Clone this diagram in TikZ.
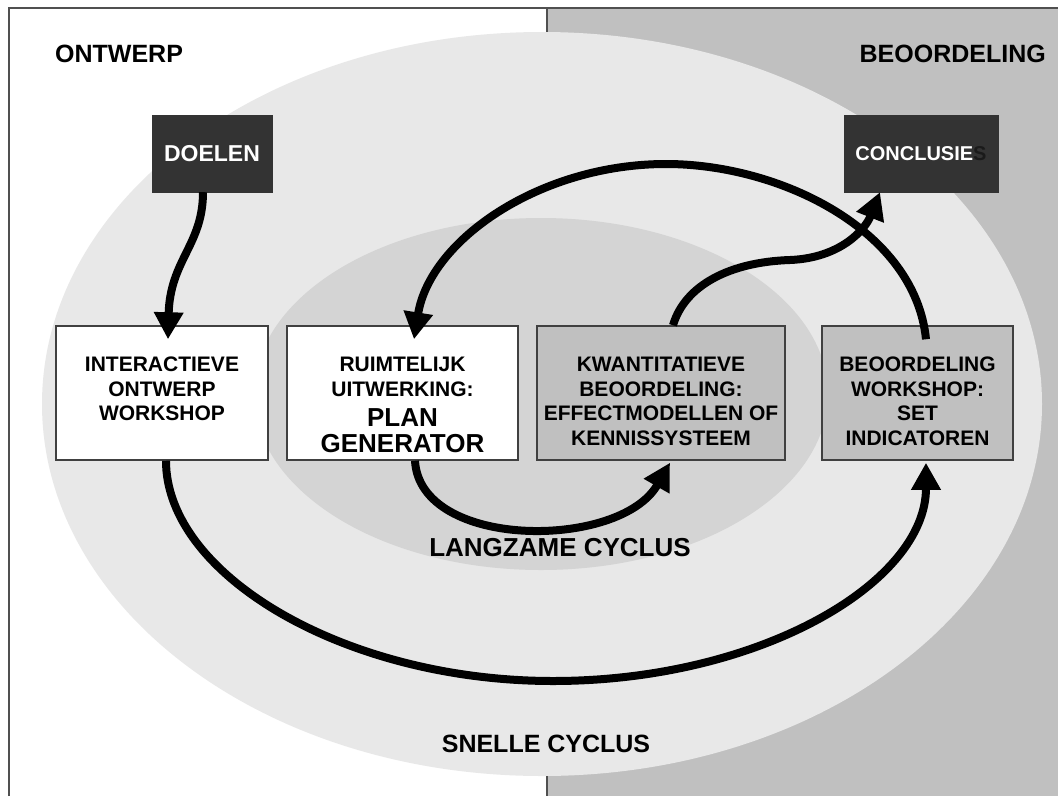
\documentclass[tikz,border=0pt]{standalone}
\usepackage{fontspec}
\setmainfont{Liberation Sans}
\usetikzlibrary{arrows.meta}
\definecolor{framec}{HTML}{505050}
\definecolor{rgray}{HTML}{C0C0C0}
\definecolor{outerc}{HTML}{E8E8E8}
\definecolor{innerc}{HTML}{D4D4D4}
\definecolor{darkbox}{HTML}{333333}
\definecolor{boxline}{HTML}{404040}
\definecolor{hidden}{HTML}{1A1A1A}
\begin{document}
\begin{tikzpicture}[x=1pt,y=-1pt,
  box/.style={draw=boxline,line width=1.5pt,inner sep=0pt,minimum height=134pt},
  dbox/.style={draw=darkbox,fill=darkbox,inner sep=0pt,minimum height=77pt,text=white},
  btxt/.style={font=\bfseries\fontsize{21}{24.5}\selectfont,align=center,anchor=north,inner sep=0pt},
  bigtxt/.style={font=\bfseries\fontsize{26}{26}\selectfont,align=center,anchor=north,inner sep=0pt},
  title/.style={font=\bfseries\fontsize{25}{30}\selectfont,inner sep=0pt},
  arr/.style={line width=8pt,-{Triangle[length=27pt,width=28pt]}}
]
\useasboundingbox (0,0) rectangle (1058,796);
\fill[white] (0,0) rectangle (1058,796);
\fill[rgray] (547,8) rectangle (1058,796);
\draw[framec,line width=1.5pt] (9,796) -- (9,8) -- (1058,8);
\draw[framec,line width=1.5pt] (547,8) -- (547,796);
% ellipses
\fill[outerc] (542,404) ellipse [x radius=500pt, y radius=372pt];
\fill[innerc] (541,394) ellipse [x radius=287pt, y radius=176pt];
% titles
\node[title,anchor=west] (ont) at (55,54) {ONTWERP};
\node[title,anchor=east] (beo) at (1046,54) {BEOORDELING};
\node[title] (snel) at (546,744) {SNELLE CYCLUS};
\node[title,font=\bfseries\fontsize{26}{30}\selectfont] (lang) at (560,548) {LANGZAME CYCLUS};
% top boxes
\node[dbox,minimum width=120pt,font=\bfseries\fontsize{23}{26}\selectfont] (d1) at (212,153.5) {DOELEN};
\node[dbox,minimum width=154pt,font=\bfseries\fontsize{20}{24}\selectfont] (c1) at (921,153.5) {CONCLUSIE\textcolor{hidden}{S}};
% row boxes
\node[box,fill=white,minimum width=212pt] (b1) at (162,393) {};
\node[box,fill=white,minimum width=231pt] (b2) at (402.5,393) {};
\node[box,fill=rgray,minimum width=248pt] (b3) at (661,393) {};
\node[box,fill=rgray,minimum width=191pt] (b4) at (917.5,393) {};
\node[btxt] (t1) at (162,357) {INTERACTIEVE\\ONTWERP\\WORKSHOP};
\node[btxt] (t2) at (402.5,357) {RUIMTELIJK\\UITWERKING:};
\node[bigtxt] (t2b) at (402.5,408) {PLAN\\GENERATOR};
\node[btxt] (t3) at (661,357) {KWANTITATIEVE\\BEOORDELING:\\EFFECTMODELLEN OF\\KENNISSYSTEEM};
\node[btxt] (t4) at (917.5,357) {BEOORDELING\\WORKSHOP:\\SET\\INDICATOREN};
% arrows
\draw[arr] ([xshift=-9pt]d1.south) .. controls (203,245) and (170,260) .. ([xshift=6pt,yshift=-14pt]b1.north);
\draw[arr] ([xshift=4pt]b1.south) .. controls (166,575) and (345,681) .. (553,681)
  .. controls (759,681) and (926,583) .. ([xshift=8.5pt,yshift=-2pt]b4.south);
\draw[arr] ([xshift=12.5pt]b2.south) .. controls (420,550) and (620,550) .. ([xshift=9pt,yshift=-2pt]b3.south);
\draw[arr] ([xshift=8.5pt,yshift=-14pt]b4.north) .. controls (915,230) and (780,164) .. (666,164)
  .. controls (540,164) and (430,240) .. ([xshift=11.5pt,yshift=-14pt]b2.north);
\draw[arr] ([xshift=12pt]b3.north) .. controls (685,285) and (730,262) .. (790,260)
  .. controls (840,258) and (865,230) .. ([xshift=-41pt]c1.south);
\end{tikzpicture}
\end{document}
